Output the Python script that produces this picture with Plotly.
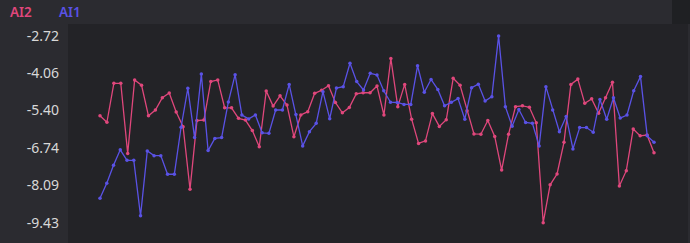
import numpy as np
import plotly.graph_objects as go

# ---- data ----
series_names = ["AI2", "AI1"]
series_colors = ["#e0477c", "#5a52e6"]

ai2_values = [-5.59, -5.82, -4.42, -4.42, -6.94, -4.30, -4.49, -5.59, -5.38, -4.94,
              -4.77, -5.45, -5.98, -8.23, -5.76, -5.74, -4.36, -4.30, -5.30, -5.30,
              -5.68, -5.74, -6.12, -6.70, -4.70, -5.24, -4.87, -5.20, -6.34, -5.56,
              -5.44, -4.78, -4.67, -4.51, -5.11, -5.48, -5.29, -4.80, -4.76, -4.76,
              -4.52, -5.56, -3.53, -5.26, -4.46, -5.71, -6.58, -6.49, -5.51, -5.97,
              -5.73, -4.24, -4.49, -5.41, -6.24, -6.25, -5.76, -6.33, -7.54, -6.25,
              -5.26, -5.23, -5.28, -5.84, -9.43, -8.07, -7.68, -6.54, -4.46, -4.27,
              -5.14, -4.98, -5.50, -4.94, -4.38, -8.11, -7.56, -6.06, -6.31, -6.28,
              -6.92]

ai1_values = [-8.55, -8.01, -7.37, -6.81, -7.19, -7.19, -9.18, -6.85, -7.02, -7.02,
              -7.69, -7.69, -6.00, -4.60, -6.37, -4.09, -6.84, -6.40, -6.37, -5.09,
              -4.11, -5.56, -5.70, -5.56, -6.20, -6.22, -5.38, -5.38, -4.46, -5.54,
              -6.67, -6.16, -5.86, -4.72, -5.69, -4.59, -4.54, -3.70, -4.36, -4.66,
              -4.06, -4.12, -4.69, -5.10, -5.11, -5.18, -5.18, -3.79, -4.74, -4.28,
              -4.64, -5.23, -5.10, -4.97, -5.71, -4.58, -4.45, -5.06, -4.90, -2.72,
              -5.26, -5.96, -5.36, -5.83, -5.86, -6.67, -4.54, -5.38, -6.16, -5.61,
              -6.78, -6.01, -6.01, -6.18, -5.00, -5.71, -4.94, -5.67, -5.56, -4.69,
              -4.18, -6.31, -6.54]

y_tick_values = [-2.72, -4.06, -5.40, -6.74, -8.09, -9.43]
y_tick_labels = ["-2.72", "-4.06", "-5.40", "-6.74", "-8.09", "-9.43"]

# both series cover the same time span, sampled at different rates
t_end = 82.0
ai2_t = np.linspace(0, t_end, len(ai2_values))
ai1_t = np.linspace(0, t_end, len(ai1_values))

# ---- figure ----
W, H = 690, 243
ML, MR, MT, MB = 68, 2, 24, 0
plot_w = W - ML - MR
px_per_unit = 554 / t_end
x_lo = -32 / px_per_unit
x_hi = t_end + (plot_w - 32 - 554) / px_per_unit

px_per_val = 27.82
y_hi = -2.72 + 12 / px_per_val
y_lo = -2.72 - (H - MT - 12) / px_per_val

fig = go.Figure()
for name, color, t, v in [(series_names[0], series_colors[0], ai2_t, ai2_values),
                          (series_names[1], series_colors[1], ai1_t, ai1_values)]:
    fig.add_trace(go.Scatter(
        x=t, y=v, name=name, mode="lines+markers",
        line=dict(color=color, width=1.3),
        marker=dict(color=color, size=3.5),
        showlegend=False,
    ))

annotations = []
legend_x_px = [8, 57]
for name, color, xp in zip(series_names, series_colors, legend_x_px):
    annotations.append(dict(
        text=name, xref="paper", yref="paper",
        x=(xp - ML) / plot_w, y=1 + (MT - 12) / (H - MT - MB),
        xanchor="left", yanchor="middle", showarrow=False,
        font=dict(color=color, size=13.5, family="Noto Sans", weight=600),
    ))

fig.update_layout(
    width=W, height=H,
    margin=dict(l=ML, r=MR, t=MT, b=MB, pad=0),
    paper_bgcolor="#2b2b30",
    plot_bgcolor="#232327",
    font=dict(family="Noto Sans", size=13, color="#d8d8d8"),
    annotations=annotations,
    shapes=[
        dict(type="rect", xref="paper", yref="paper",
             x0=(672 - ML) / plot_w, x1=1.01, y0=1, y1=1 + MT / (H - MT),
             fillcolor="#1f2023", line=dict(width=0), layer="below"),
    ],
    xaxis=dict(range=[x_lo, x_hi], showgrid=False, zeroline=False,
               showticklabels=False, showline=False, ticks=""),
    yaxis=dict(range=[y_lo, y_hi], showgrid=False, zeroline=False,
               tickvals=y_tick_values, ticktext=y_tick_labels,
               showline=False, ticks="", ticklabelstandoff=8,
               tickfont=dict(color="#d8d8d8", size=14)),
)

fig.write_html("out.html")
